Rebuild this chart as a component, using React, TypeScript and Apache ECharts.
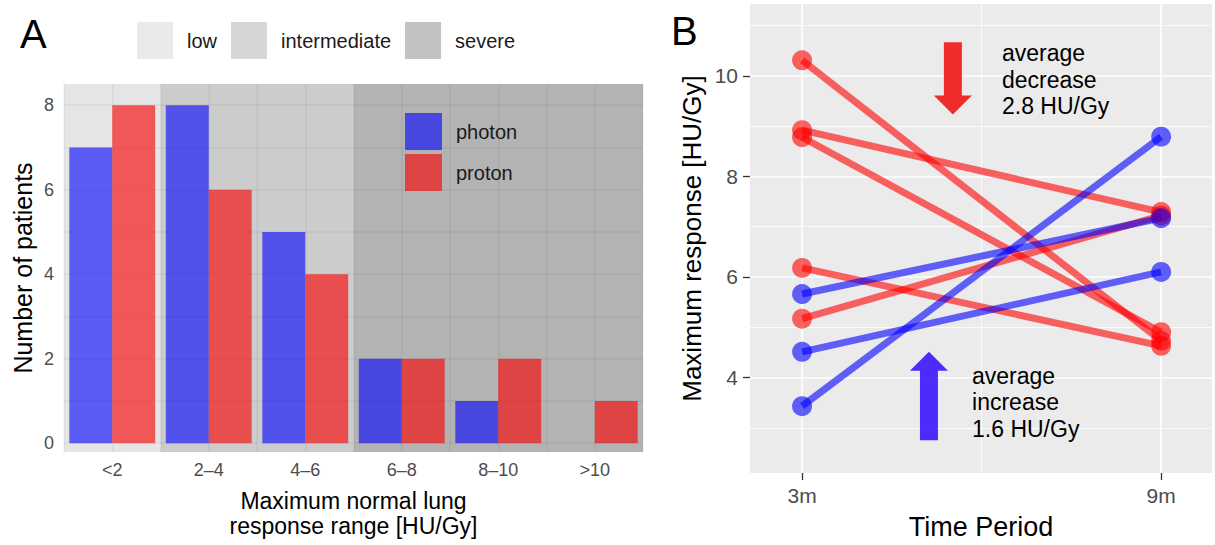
import React, { useEffect, useRef } from "react";
import * as echarts from "echarts";

const FONT = '"Liberation Sans", Arial, Helvetica, sans-serif';

// ---------- Panel A data ----------
const categories = ["<2", "2\u20134", "4\u20136", "6\u20138", "8\u201310", ">10"];
const photonCounts = [7, 8, 5, 2, 1, 0];
const protonCounts = [8, 6, 4, 2, 2, 1];
const severityNames = ["low", "intermediate", "severe"];
const severityColors = ["#e5e5e5", "#cccccc", "#b3b3b3"];
const severityFirstCat = [0, 1, 3];
const severityLastCat = [0, 2, 5];
const countTicks = [0, 2, 4, 6, 8];
const countGrid = [0, 1, 2, 3, 4, 5, 6, 7, 8];

// ---------- Panel B data ----------
const periods = [3, 9];
const protonAt3m = [10.31, 8.92, 8.78, 6.18, 5.17];
const protonAt9m = [4.73, 7.29, 4.9, 4.63, 7.22];
const photonAt3m = [5.66, 4.51, 3.43];
const photonAt9m = [7.17, 6.1, 8.79];
const responseTicks = [4, 6, 8, 10];
const responseMinor = [3, 5, 7, 9, 11];
const periodMinor = [6];
const arrowX = [5.52, 5.12];
const arrowFrom = [10.67, 2.75];
const arrowTo = [9.23, 4.51];
const arrowColors = ["rgba(240,0,0,0.82)", "rgba(40,0,255,0.82)"];
const noteX = [6.34, 5.84];
const noteY = [10.71, 4.3];
const notes = ["average\ndecrease\n2.8 HU/Gy", "average\nincrease\n1.6 HU/Gy"];

const RED = "rgba(255,0,0,0.6)";
const BLUE = "rgba(0,0,255,0.6)";

function buildOption(): any {
  const series: any[] = [];

  // shading areas (panel A)
  severityNames.forEach((n, i) => {
    series.push({
      type: "scatter",
      name: n,
      xAxisIndex: 1,
      yAxisIndex: 0,
      data: [],
      color: severityColors[i],
      z: 0,
      silent: true,
      markArea: {
        silent: true,
        z: 0,
        itemStyle: { color: severityColors[i] },
        data: [[{ xAxis: severityFirstCat[i] }, { xAxis: severityLastCat[i] + 1 }]],
      },
    });
  });
  // tile lines (horizontal) panel A
  series.push({
    type: "scatter",
    xAxisIndex: 1,
    yAxisIndex: 0,
    data: [],
    z: 1,
    silent: true,
    markLine: {
      silent: true,
      z: 1,
      symbol: ["none", "none"],
      label: { show: false },
      lineStyle: { color: "rgba(0,0,0,0.05)", width: 1.5, type: "solid" },
      data: countGrid.map((v) => ({ yAxis: v })),
    },
  });
  series.push({
    type: "bar",
    name: "photon",
    xAxisIndex: 0,
    yAxisIndex: 0,
    data: photonCounts,
    barGap: "0%",
    barCategoryGap: "11%",
    itemStyle: { color: "rgba(0,0,255,0.6)" },
    z: 2,
    silent: true,
  });
  series.push({
    type: "bar",
    name: "proton",
    xAxisIndex: 0,
    yAxisIndex: 0,
    data: protonCounts,
    barGap: "0%",
    barCategoryGap: "11%",
    itemStyle: { color: "rgba(250,0,0,0.62)" },
    z: 2,
    silent: true,
  });

  // panel B grid lines
  const major = { color: "#ffffff", width: 1.6, type: "solid" };
  const minor = { color: "#ffffff", width: 0.8, type: "solid" };
  series.push({
    type: "scatter",
    xAxisIndex: 2,
    yAxisIndex: 1,
    data: [],
    z: 1,
    silent: true,
    markLine: {
      silent: true,
      z: 1,
      symbol: ["none", "none"],
      label: { show: false },
      data: [
        ...responseMinor.map((v) => ({ yAxis: v, lineStyle: minor })),
        ...periodMinor.map((v) => ({ xAxis: v, lineStyle: minor })),
        ...responseTicks.map((v) => ({ yAxis: v, lineStyle: major })),
        ...periods.map((v) => ({ xAxis: v, lineStyle: major })),
      ],
    },
  });

  const pairSeries = (a: number[], b: number[], color: string) =>
    a.map((v, i) => ({
      type: "line",
      xAxisIndex: 2,
      yAxisIndex: 1,
      data: [
        [periods[0], v],
        [periods[1], b[i]],
      ],
      symbol: "circle",
      symbolSize: 20,
      lineStyle: { color, width: 7, cap: "butt" },
      itemStyle: { color },
      z: 2,
      silent: true,
    }));
  series.push(...pairSeries(protonAt3m, protonAt9m, RED));
  series.push(...pairSeries(photonAt3m, photonAt9m, BLUE));

  series.push({
    type: "custom",
    xAxisIndex: 2,
    yAxisIndex: 1,
    z: 3,
    silent: true,
    data: arrowX.map((x, i) => [x, arrowFrom[i], arrowTo[i], i]),
    renderItem: (params: any, api: any) => {
      const x = api.value(0);
      const i = api.value(3);
      const p0 = api.coord([x, api.value(1)]);
      const p1 = api.coord([x, api.value(2)]);
      const dir = p1[1] > p0[1] ? 1 : -1;
      const hl = 19, sw = 9, hw = 19;
      const yb = p1[1] - dir * hl;
      return {
        type: "polygon",
        shape: {
          points: [
            [p0[0] - sw, p0[1]],
            [p0[0] + sw, p0[1]],
            [p0[0] + sw, yb],
            [p0[0] + hw, yb],
            [p1[0], p1[1]],
            [p0[0] - hw, yb],
            [p0[0] - sw, yb],
          ],
        },
        style: { fill: arrowColors[i] },
      };
    },
  });
  series.push({
    type: "custom",
    xAxisIndex: 2,
    yAxisIndex: 1,
    z: 4,
    silent: true,
    data: noteX.map((x, i) => [x, noteY[i], i]),
    renderItem: (params: any, api: any) => {
      const p = api.coord([api.value(0), api.value(1)]);
      return {
        type: "text",
        x: p[0],
        y: p[1],
        style: {
          text: notes[api.value(2)],
          fontSize: 23,
          lineHeight: 26.5,
          fontFamily: FONT,
          fill: "#000",
          align: "left",
          verticalAlign: "top",
        },
      };
    },
  });

  return {
    animation: false,
    backgroundColor: "#ffffff",
    textStyle: { fontFamily: FONT },
    grid: [
      { left: 64, top: 84, width: 579, height: 368, show: false },
      { left: 750, top: 4, width: 462, height: 471, show: true, backgroundColor: "#ebebeb", borderWidth: 0 },
    ],
    legend: [
      {
        data: severityNames,
        left: 137,
        top: 22,
        padding: 0,
        orient: "horizontal",
        itemWidth: 36,
        itemHeight: 37,
        itemGap: 14,
        icon: "rect",
        selectedMode: false,
        textStyle: { fontSize: 20, color: "#1a1a1a", fontFamily: FONT, padding: [0, 0, 0, 9] },
      },
      {
        data: ["photon", "proton"],
        left: 405,
        top: 113,
        padding: 0,
        orient: "vertical",
        itemWidth: 37,
        itemHeight: 37,
        itemGap: 4,
        icon: "rect",
        selectedMode: false,
        textStyle: { fontSize: 20, color: "#1a1a1a", fontFamily: FONT, padding: [0, 0, 0, 9] },
      },
    ],
    xAxis: [
      {
        gridIndex: 0,
        type: "category",
        data: categories,
        axisLine: { show: false },
        axisTick: { show: false },
        splitLine: { show: false },
        axisLabel: { color: "#4d4d4d", fontSize: 18, margin: 9, fontFamily: FONT },
        name: "Maximum normal lung\nresponse range [HU/Gy]",
        nameLocation: "middle",
        nameGap: 36,
        nameTextStyle: { fontSize: 23, lineHeight: 25, color: "#000", fontFamily: FONT },
      },
      {
        gridIndex: 0,
        type: "value",
        min: 0,
        max: 6,
        interval: 0.5,
        z: 1,
        axisLine: { show: false },
        axisTick: { show: false },
        axisLabel: { show: false },
        splitLine: { show: true, lineStyle: { color: "rgba(0,0,0,0.05)", width: 1.5 } },
      },
      {
        gridIndex: 1,
        type: "value",
        min: 2.13,
        max: 9.85,
        axisLine: { show: false },
        axisTick: { show: true, customValues: periods, length: 7, lineStyle: { color: "#333", width: 1.3 } },
        axisLabel: {
          customValues: periods,
          formatter: (v: number) => v + "m",
          color: "#4d4d4d",
          fontSize: 21,
          margin: 12,
          fontFamily: FONT,
        },
        splitLine: { show: false },
        name: "Time Period",
        nameLocation: "middle",
        nameGap: 40,
        nameTextStyle: { fontSize: 27, color: "#000", fontFamily: FONT },
      },
    ],
    yAxis: [
      {
        gridIndex: 0,
        type: "value",
        min: -0.21,
        max: 8.5,
        axisLine: { show: false },
        axisTick: { show: false },
        splitLine: { show: false },
        axisLabel: { customValues: countTicks, color: "#4d4d4d", fontSize: 18, margin: 10, fontFamily: FONT },
        name: "Number of patients",
        nameLocation: "middle",
        nameGap: 29,
        nameTextStyle: { fontSize: 25, color: "#000", fontFamily: FONT },
      },
      {
        gridIndex: 1,
        type: "value",
        min: 2.1,
        max: 11.43,
        axisLine: { show: false },
        axisTick: { show: true, customValues: responseTicks, length: 7, lineStyle: { color: "#333", width: 1.3 } },
        splitLine: { show: false },
        axisLabel: { customValues: responseTicks, color: "#4d4d4d", fontSize: 21, margin: 12, fontFamily: FONT },
        name: "Maximum response [HU/Gy]",
        nameLocation: "middle",
        nameGap: 45,
        nameTextStyle: { fontSize: 26, color: "#000", fontFamily: FONT },
      },
    ],
    graphic: [
      { type: "text", left: 20, top: 14, style: { text: "A", fontSize: 40, fill: "#000", fontFamily: FONT } },
      { type: "text", left: 671, top: 11, style: { text: "B", fontSize: 40, fill: "#000", fontFamily: FONT } },
    ],
    series,
  };
}

export default function App() {
  const ref = useRef<HTMLDivElement>(null);
  useEffect(() => {
    const chart = echarts.init(ref.current!, null, { renderer: "svg", width: 1215, height: 545 });
    chart.setOption(buildOption());
    return () => chart.dispose();
  }, []);
  return (
    <div
      ref={ref}
      style={{ position: "fixed", left: 0, top: 0, width: 1215, height: 545, background: "#fff" }}
    />
  );
}
